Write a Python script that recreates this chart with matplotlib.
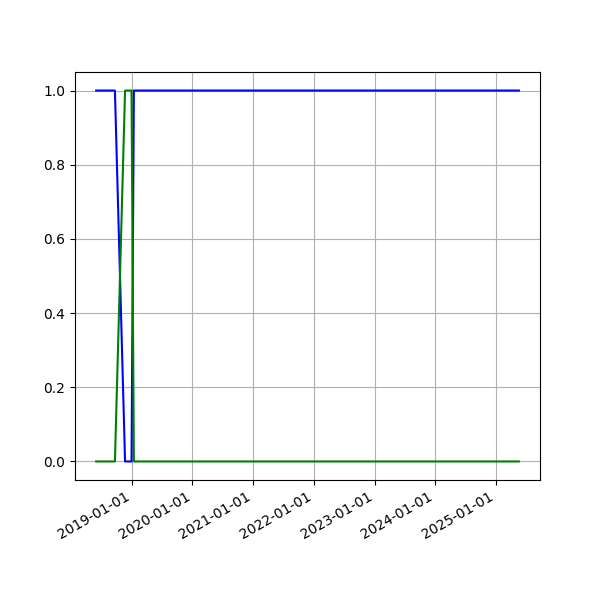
import matplotlib
matplotlib.use("Agg")
import matplotlib.pyplot as plt
import matplotlib.dates as mdates
import numpy as np

dates = np.array(['2018-06-01', '2018-09-22', '2018-11-22',
                  '2018-12-31', '2019-01-14', '2025-05-18'], dtype='datetime64[D]')
blue_vals = [1, 1, 0, 0, 1, 1]
green_vals = [0, 0, 1, 1, 0, 0]

fig, ax = plt.subplots(figsize=(6, 6), dpi=100)
ax.plot(dates, blue_vals, color='blue')
ax.plot(dates, green_vals, color='green')

ax.xaxis.set_major_locator(mdates.YearLocator())
ax.xaxis.set_major_formatter(mdates.DateFormatter('%Y-%m-%d'))
ax.grid(True)
fig.autofmt_xdate()

fig.savefig('out.png')
